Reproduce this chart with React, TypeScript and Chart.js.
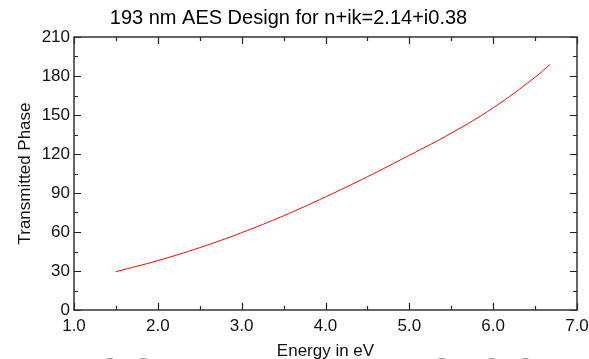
import React, { useEffect, useRef } from "react";
import { Chart, registerables } from "chart.js";

Chart.register(...registerables);

const energy = [1.5, 2.0, 2.5, 3.0, 3.5, 4.0, 4.5, 5.0, 5.5, 6.0, 6.5, 6.68];
const phase = [29.5, 38, 48, 59.5, 72.5, 87, 102.5, 119, 136, 155.5, 179, 189];
const xTicks = [1, 2, 3, 4, 5, 6, 7];
const yTicks = [0, 30, 60, 90, 120, 150, 180, 210];
const titleText = "193 nm AES Design for n+ik=2.14+i0.38";

const FONT = "'Liberation Sans', Arial, sans-serif";

const tickPlugin = {
  id: "insideTicks",
  afterDraw(chart: any) {
    const { ctx, chartArea: a, scales } = chart;
    const xs = scales.x;
    const ys = scales.y;
    ctx.save();
    ctx.strokeStyle = "#222";
    ctx.lineWidth = 1.2;
    for (let v = 1; v <= 7.001; v += 0.5) {
      const px = Math.round(xs.getPixelForValue(v)) + 0.5;
      const major = Math.abs(v - Math.round(v)) < 1e-6;
      const len = major ? 7 : 4;
      ctx.beginPath();
      ctx.moveTo(px, a.bottom);
      ctx.lineTo(px, a.bottom - len);
      ctx.moveTo(px, a.top);
      ctx.lineTo(px, a.top + len);
      ctx.stroke();
    }
    for (let v = 0; v <= 210; v += 15) {
      const py = Math.round(ys.getPixelForValue(v)) + 0.5;
      const major = v % 30 === 0;
      const len = major ? 7 : 4;
      ctx.beginPath();
      ctx.moveTo(a.left, py);
      ctx.lineTo(a.left + len, py);
      ctx.moveTo(a.right, py);
      ctx.lineTo(a.right - len, py);
      ctx.stroke();
    }
    ctx.lineWidth = 1.5;
    ctx.strokeStyle = "#333";
    ctx.strokeRect(a.left, a.top, a.right - a.left, a.bottom - a.top);
    ctx.restore();
  },
};

export default function App() {
  const ref = useRef<HTMLCanvasElement>(null);
  useEffect(() => {
    if (!ref.current) return;
    const chart = new Chart(ref.current, {
      type: "line",
      data: {
        datasets: [
          {
            data: energy.map((e, i) => ({ x: e, y: phase[i] })),
            borderColor: "#ff0000",
            borderWidth: 1,
            pointRadius: 0,
            tension: 0.4,
            fill: false,
          },
        ],
      },
      options: {
        animation: false,
        responsive: false,
        layout: { padding: { left: 0, right: 12, top: 0, bottom: 0 } },
        plugins: {
          legend: { display: false },
          tooltip: { enabled: false },
          title: {
            display: true,
            text: titleText,
            color: "#000",
            font: { family: FONT, size: 20, weight: "normal" },
            padding: { top: 6, bottom: 7 },
          },
        },
        scales: {
          x: {
            type: "linear",
            min: 1,
            max: 7,
            afterBuildTicks: (s: any) => {
              s.ticks = xTicks.map((v) => ({ value: v }));
            },
            afterFit: (s: any) => {
              s.height = 49;
              s.paddingLeft = 0;
              s.paddingRight = 0;
            },
            grid: { display: false, drawTicks: false },
            border: { display: false },
            ticks: {
              autoSkip: false,
              maxRotation: 0,
              padding: 6,
              color: "#111",
              font: { family: FONT, size: 17 },
              callback: (v: any) => Number(v).toFixed(1),
            },
            title: {
              display: true,
              text: "Energy in eV",
              color: "#111",
              font: { family: FONT, size: 17 },
              padding: { top: 0, bottom: -3 },
            },
          },
          y: {
            type: "linear",
            min: 0,
            max: 210,
            afterBuildTicks: (s: any) => {
              s.ticks = yTicks.map((v) => ({ value: v }));
            },
            afterFit: (s: any) => {
              s.width = 74;
              s.paddingTop = 0;
              s.paddingBottom = 0;
            },
            grid: { display: false, drawTicks: false },
            border: { display: false },
            ticks: {
              autoSkip: false,
              padding: 4,
              color: "#111",
              font: { family: FONT, size: 17 },
            },
            title: {
              display: true,
              text: "Transmitted Phase",
              color: "#111",
              font: { family: FONT, size: 17 },
              padding: { top: 15, bottom: 0 },
            },
          },
        },
      },
      plugins: [tickPlugin],
    } as any);
    return () => chart.destroy();
  }, []);

  const big: React.CSSProperties = {
    position: "absolute",
    top: 350,
    fontFamily: FONT,
    fontSize: 60,
    lineHeight: "60px",
    color: "#222",
    whiteSpace: "pre",
  };

  return (
    <div
      style={{
        position: "absolute",
        left: 0,
        top: 0,
        width: 589,
        height: 359,
        overflow: "hidden",
        background: "#fff",
      }}
    >
      <canvas ref={ref} width={589} height={359} style={{ display: "block" }} />
      <div style={{ ...big, left: 60 }}>193 T</div>
      <div style={{ ...big, left: 425 }}>0.38</div>
    </div>
  );
}
